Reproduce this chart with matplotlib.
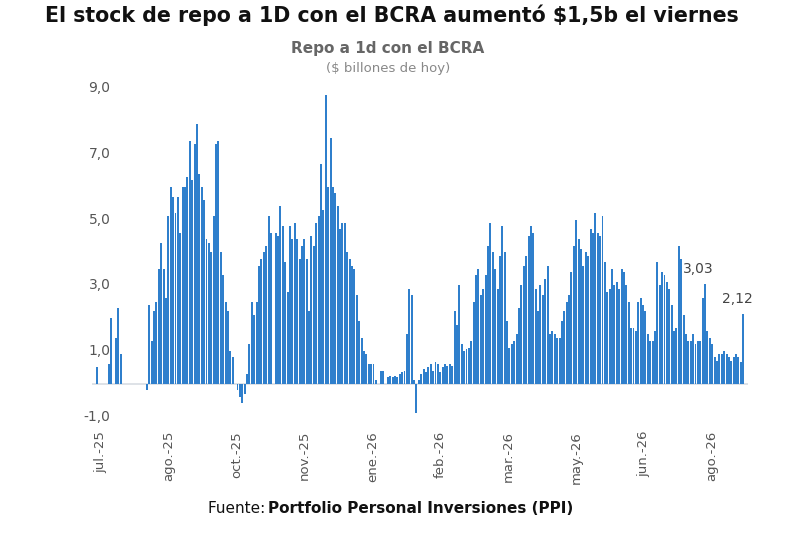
import matplotlib
matplotlib.use("Agg")
import matplotlib.pyplot as plt
from matplotlib.transforms import blended_transform_factory

# daily stock of 1-day repo with BCRA ($ billones de hoy)
part_2025 = [0.5, 0, 0, 0, 0, 0.6, 2.0, 0, 1.4, 2.3, 0.9, 0, 0, 0, 0, 0, 0, 0, 0, 0, 0, -0.2,
             2.4, 1.3, 2.2, 2.5, 3.5, 4.3, 3.5, 2.6, 5.1, 6.0, 5.7, 5.2, 5.7, 4.6, 6.0, 6.0, 6.3,
             7.4, 6.2, 7.3, 7.9, 6.4, 6.0, 5.6, 4.4, 4.3, 4.0, 5.1, 7.3, 7.4, 4.0, 3.3, 2.5, 2.2,
             1.0, 0.8, 0.0, -0.2, -0.4, -0.6, -0.3,
             0.3, 1.2, 2.5, 2.1, 2.5, 3.6, 3.8, 4.0, 4.2, 5.1, 4.6, 0.0, 4.6, 4.5, 5.4, 4.8, 3.7,
             2.8, 4.8, 4.4, 4.9, 4.4, 3.8, 4.2, 4.4, 3.8, 2.2, 4.5, 4.2, 4.9, 5.1, 6.7, 5.3, 8.8,
             6.0, 7.5, 6.0, 5.8, 5.4, 4.7, 4.9, 4.9, 4.0, 3.8, 3.6, 3.5, 2.7, 1.9, 1.4, 1.0, 0.9,
             0.6, 0.6, 0.6, 0.1, 0.0, 0.4, 0.4, 0.0, 0.2, 0.25, 0.2, 0.25, 0.2, 0.3, 0.35, 0.4,
             1.5, 2.9, 2.7, 0.1, -0.9]
part_2026 = [0.1, 0.3, 0.45, 0.35, 0.5, 0.6, 0.4, 0.65, 0.6, 0.35, 0.5, 0.6, 0.55, 0.6, 0.55,
             2.2, 1.8, 3.0, 1.2, 1.0, 1.05, 1.1, 1.3, 2.5, 3.3, 3.5, 2.7, 2.9, 3.3, 4.2, 4.9, 4.0,
             3.5, 2.9, 3.9, 4.8, 4.0, 1.9, 1.1, 1.2, 1.3, 1.5, 2.3, 3.0, 3.6, 3.9, 4.5, 4.8, 4.6,
             2.9, 2.2, 3.0, 2.7, 3.2, 3.6, 1.5, 1.6, 1.5, 1.4, 1.4, 1.9, 2.2, 2.5, 2.7, 3.4, 4.2,
             5.0, 4.4, 4.1, 3.6, 4.0, 3.9, 4.7, 4.6, 5.2, 4.6, 4.5, 5.1, 3.7, 2.8, 2.9, 3.5, 3.0,
             3.1, 2.9, 3.5, 3.4, 3.0, 2.5, 1.7, 1.7, 1.6, 2.5, 2.6, 2.4, 2.2, 1.5, 1.3, 1.3, 1.6,
             3.7, 3.0, 3.4, 3.3, 3.1, 2.9, 2.4, 1.6, 1.7, 4.2, 3.8, 2.1, 1.5, 1.3, 1.3, 1.5, 1.2,
             1.3, 1.3, 2.6, 3.03, 1.6, 1.4, 1.2, 0.8, 0.7, 0.9, 0.9, 1.0, 0.9, 0.8, 0.7, 0.8, 0.9,
             0.8, 0.65, 2.12]
values = part_2025 + part_2026
tick_labels = ["jul.-25", "ago.-25", "oct.-25", "nov.-25", "ene.-26", "feb.-26",
               "mar.-26", "may.-26", "jun.-26", "ago.-26"]
tick_start, tick_step = 1.5, 28.5
y_ticks = [-1, 1, 3, 5, 7, 9]

BLUE = "#2f7fcc"

fig = plt.figure(figsize=(8, 5.41), dpi=100)
ax = fig.add_axes([0.115, 0.224, 0.82, 0.628])
x = list(range(len(values)))
ax.bar(x, values, width=0.82, color=BLUE, linewidth=0)
ax.axhline(0, color="#d8dde3", lw=1.2, zorder=0)
ax.set_ylim(-1.1, 9.25)
ax.set_xlim(-2, len(values) + 1)
for s in ax.spines.values():
    s.set_visible(False)

ax.set_yticks(y_ticks)
ax.set_yticklabels([])
ax.tick_params(axis="y", length=0)
tr = blended_transform_factory(fig.transFigure, ax.transData)
for v in y_ticks:
    ax.text(0.138, v, f"{v:.1f}".replace(".", ","), transform=tr, ha="right",
            va="center", fontsize=10, color="#555555")

ax.set_xticks([tick_start + i * tick_step for i in range(len(tick_labels))])
ax.set_xticklabels(tick_labels, rotation=90, fontsize=9.5, color="#555555")
ax.tick_params(axis="x", length=0, pad=8)

ax.annotate("3,03", (x[-20], 3.03), xytext=(0, 8), textcoords="offset points",
            ha="center", fontsize=10, color="#444444")
ax.annotate("2,12", (x[-1], 2.12), xytext=(-4, 8), textcoords="offset points",
            ha="center", fontsize=10, color="#444444")

fig.text(0.49, 0.972, "El stock de repo a 1D con el BCRA aumentó $1,5b el viernes",
         ha="center", va="center", fontsize=14.8, fontweight="bold", color="#111111")
fig.text(0.485, 0.91, "Repo a 1d con el BCRA", ha="center", va="center",
         fontsize=11, fontweight="bold", color="#666666")
fig.text(0.485, 0.874, "($ billones de hoy)", ha="center", va="center",
         fontsize=9.5, color="#888888")
fig.text(0.26, 0.06, "Fuente: ", ha="left", va="center", fontsize=11, color="#111111")
fig.text(0.335, 0.06, "Portfolio Personal Inversiones (PPI)", ha="left", va="center",
         fontsize=11, fontweight="bold", color="#111111")

fig.savefig("out.png", dpi=100, facecolor="white")
